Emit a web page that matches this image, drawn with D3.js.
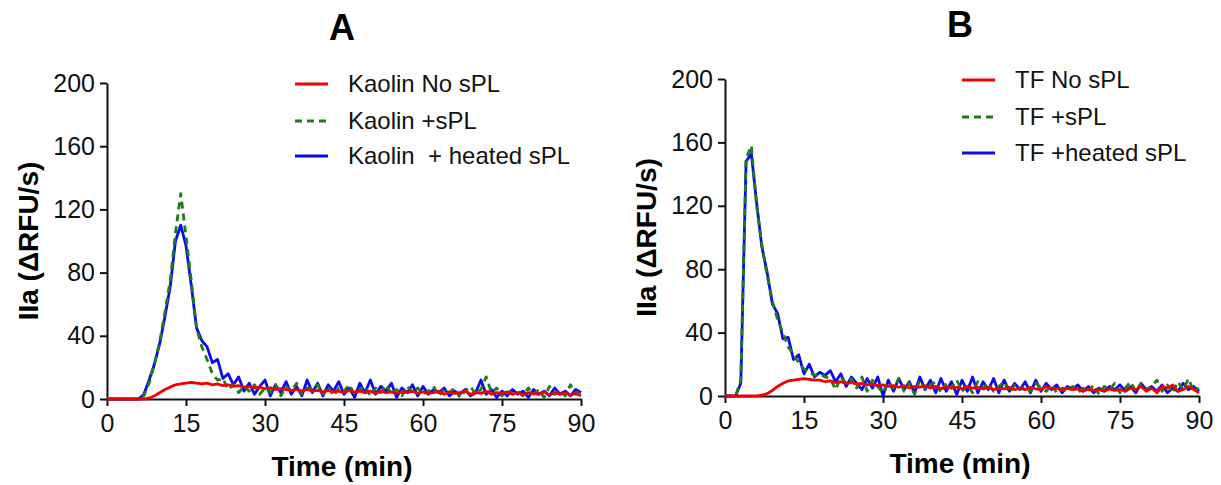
<!DOCTYPE html>
<html lang="en">
<head>
<meta charset="UTF-8">
<title>IIa generation</title>
<style>
    body { margin: 0; background: #fff; }
    svg { display: block; font-family: "Liberation Sans", Arial, sans-serif; }
    .leg { white-space: pre; }
</style>
</head>
<body>
<svg width="1221" height="485"></svg>
<script src="https://cdn.jsdelivr.net/npm/d3@7"></script>
<script>
// time points, one reading per minute
const time = d3.range(0, 91);
const xTicks = [0, 15, 30, 45, 60, 75, 90];
const yTicks = [0, 40, 80, 120, 160, 200];

// panel A - kaolin
const kaolinNoSPL = [0,0,0,0,0,0,0,0,0.5,2,4,6,7.5,9,9.5,10,10.5,10,9.5,10,9,9.5,8.5,9,8,8.5,7.5,8,7,7.5,
    6.5,7,6,6.5,6,5.5,6,5,6,5,5.5,4.5,5.5,4.5,5,4,5.5,4.5,5,4,5,3.5,5,4,4.5,3.5,4.5,4,5,3.5,
    4.5,3.5,4,5,3,4.5,3.5,4,5,3,4,3.5,5,3,4,3.5,4.5,3,4,2.5,4,3.5,3,4.5,2.5,4,3,4,2.5,3.5,2];
const kaolinSPL = [0,0,0,0,0,0,0,2,10,22,36,55,75,105,130,103,75,45,33,25,16,12,13,6,9,4,8,5,9,3,
    7,4,9,2,8,5,10,3,7,6,9,3,8,2,7,5,9,3,6,8,2,7,4,9,3,6,2,8,4,7,
    3,5,8,2,6,4,7,1,5,8,3,6,14,4,7,2,6,3,5,2,7,3,6,1,8,3,5,2,9,3,6];
const kaolinHeated = [0,0,0,0,0,0,0,3,12,22,35,52,71,100,110,97,72,45,37,33,23,25,13,16,9,14,5,10,3,8,
    12,2,9,4,11,3,8,2,12,4,10,2,9,5,11,3,7,1,10,4,12,3,8,5,10,1,7,4,9,2,
    8,3,6,4,7,2,5,3,6,2,4,12,3,6,1,5,2,6,3,5,1,6,3,5,2,7,3,5,2,6,4];

// panel B - tissue factor
const tfNoSPL = [0,0,0,0,0,0,0,0.5,1.5,3.5,6,8,9.5,10,10.5,11,10.5,10,10,9,9.5,8.5,9,8,8.5,7.5,8,7,7.5,6.5,
    7,6,6.5,5.5,6.5,5,6,5.5,6.5,5,6,4.5,6,5,5.5,4.5,6,5,5.5,4.5,5.5,4,5,4.5,5.5,4,5,4,5.5,4.5,
    4,6,4.5,5,3.5,5,4,4.5,3,4.5,3.5,4,3,4.5,3.5,4,3,5,4,6,3,5,2,6,5,7,3,4,6,4,2];
const tfSPL = [0,0,0,10,150,158,120,95,76,60,48,40,31,26,21,17,15,13,14,12,11,4,12,8,11,5,12,3,10,6,
    2,9,5,11,3,8,1,10,4,7,9,2,8,5,10,3,7,2,9,5,8,3,6,9,2,7,4,6,3,8,
    5,3,7,2,5,4,6,2,5,3,7,1,6,4,8,2,5,9,3,8,4,6,10,3,7,2,9,4,11,3,5];
const tfHeated = [0,0,0,8,148,153,122,94,78,58,52,36,37,23,26,14,20,12,15,13,16,9,14,6,12,8,4,11,5,12,
    0,10,3,11,4,9,2,12,4,10,2,11,3,9,1,10,3,12,2,9,4,11,2,10,3,8,4,9,2,10,
    3,8,4,7,2,6,4,7,3,6,2,5,3,6,4,7,3,6,2,8,4,6,3,7,2,5,3,8,4,6,3];

const panels = [
    { title: 'A', x0: 107, x1: 581, y0: 399, y1: 83, titleY: 40, xLabelY: 476,
      legX: 295, legY: [84, 121, 156],
      names: ['Kaolin No sPL', 'Kaolin +sPL', 'Kaolin  + heated sPL'],
      series: [kaolinNoSPL, kaolinSPL, kaolinHeated] },
    { title: 'B', x0: 725, x1: 1199, y0: 396, y1: 79, titleY: 37, xLabelY: 473,
      legX: 962, legY: [80, 117, 153],
      names: ['TF No sPL', 'TF +sPL', 'TF +heated sPL'],
      series: [tfNoSPL, tfSPL, tfHeated] }
];

const colors = ['#f00000', '#1b7d1b', '#0a0aee'];
const dashes = [null, '7,5', null];

const svg = d3.select('svg');
svg.append('rect').attr('width', 1221).attr('height', 485).attr('fill', '#fff');

panels.forEach(function (p) {
    const x = d3.scaleLinear().domain([0, 90]).range([p.x0, p.x1]);
    const y = d3.scaleLinear().domain([0, 200]).range([p.y0, p.y1]);
    const g = svg.append('g');

    // axes
    const ax = g.append('g').attr('transform', 'translate(0,' + p.y0 + ')')
        .call(d3.axisBottom(x).tickValues(xTicks).tickSize(7).tickPadding(8).tickSizeOuter(0));
    const ay = g.append('g').attr('transform', 'translate(' + p.x0 + ',0)')
        .call(d3.axisLeft(y).tickValues(yTicks).tickSize(7).tickPadding(5).tickSizeOuter(0));
    [ax, ay].forEach(function (a) {
        a.selectAll('path,line').attr('stroke', '#111').attr('stroke-width', 2);
        a.selectAll('text').attr('font-size', 25).attr('fill', '#111')
            .attr('font-family', '"Liberation Sans", Arial, sans-serif');
    });

    // lines: blue under green under red
    const line = d3.line().x(function (d, i) { return x(time[i]); }).y(function (d) { return y(d); });
    [2, 1, 0].forEach(function (k) {
        g.append('path').datum(p.series[k])
            .attr('fill', 'none')
            .attr('stroke', colors[k])
            .attr('stroke-width', 2.8)
            .attr('stroke-linejoin', 'round')
            .attr('stroke-dasharray', dashes[k])
            .attr('d', line);
    });

    // titles
    g.append('text').attr('x', (p.x0 + p.x1) / 2 - 2).attr('y', p.titleY)
        .attr('text-anchor', 'middle').attr('font-size', 36).attr('font-weight', 'bold').text(p.title);
    g.append('text').attr('x', (p.x0 + p.x1) / 2 - 2).attr('y', p.xLabelY)
        .attr('text-anchor', 'middle').attr('font-size', 28).attr('font-weight', 'bold').text('Time (min)');
    g.append('text')
        .attr('transform', 'translate(' + (p.x0 - 69) + ',' + ((p.y0 + p.y1) / 2) + ') rotate(-90)')
        .attr('text-anchor', 'middle').attr('font-size', 28).attr('font-weight', 'bold').text('IIa (\u0394RFU/s)');

    // legend
    p.names.forEach(function (name, k) {
        g.append('line').attr('x1', p.legX).attr('x2', p.legX + 33)
            .attr('y1', p.legY[k]).attr('y2', p.legY[k])
            .attr('stroke', colors[k]).attr('stroke-width', 2.8).attr('stroke-dasharray', dashes[k]);
        g.append('text').attr('class', 'leg').attr('x', p.legX + 53).attr('y', p.legY[k] + 8)
            .attr('font-size', 24).attr('fill', '#111').text(name);
    });
});
</script>
</body>
</html>
